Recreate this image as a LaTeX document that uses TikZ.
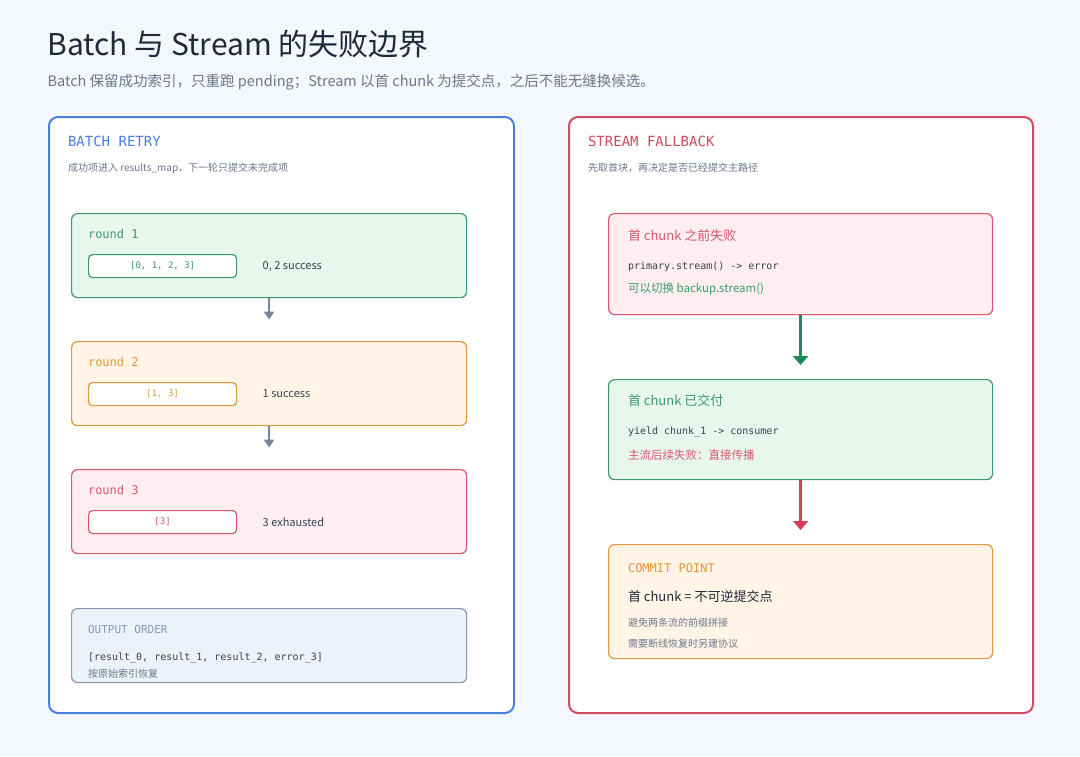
\documentclass[tikz,border=0pt]{standalone}
\usepackage{fontspec}
\usepackage{tikz}
\usetikzlibrary{arrows.meta,calc,positioning}
\setmainfont{Noto Sans CJK SC}
\newfontfamily\codefont{DejaVu Sans Mono}
\definecolor{pagebg}{HTML}{F4F7FB}
\definecolor{titleink}{HTML}{1E2A3B}
\definecolor{mutedink}{HTML}{6B778C}
\definecolor{bodyink}{HTML}{374151}
\definecolor{batchblue}{HTML}{4A7FE0}
\definecolor{streamred}{HTML}{D14A62}
\definecolor{okgreen}{HTML}{3A9A6A}
\definecolor{okfill}{HTML}{E8F7EE}
\definecolor{warnorange}{HTML}{E3973A}
\definecolor{warnfill}{HTML}{FFF4E6}
\definecolor{failred}{HTML}{D9566E}
\definecolor{failfill}{HTML}{FFEEF1}
\definecolor{outgray}{HTML}{8A97B5}
\definecolor{outfill}{HTML}{EDF1F8}
\definecolor{arrowgray}{HTML}{7D879C}
\definecolor{arrowgreen}{HTML}{1F8A55}
\definecolor{arrowred}{HTML}{D63D5A}

\begin{document}
\begin{tikzpicture}[x=1pt, y=-1pt,
    panel/.style={draw, rectangle, rounded corners=9pt, fill=white, line width=2pt, anchor=north west},
    card/.style={draw, rectangle, rounded corners=6pt, line width=1.2pt, anchor=north west},
    chip/.style={draw, rectangle, rounded corners=4pt, fill=white, line width=1.2pt, anchor=north west,
        minimum width=148pt, minimum height=23pt, font=\codefont\fontsize{9}{11}\selectfont},
    kicker/.style={anchor=west, font=\codefont\fontsize{14}{16}\selectfont},
    note/.style={anchor=west, text=mutedink, font=\fontsize{10}{12}\selectfont},
    code/.style={anchor=west, text=bodyink, font=\codefont\fontsize{10}{12}\selectfont},
    tag/.style={anchor=west, font=\codefont\fontsize{12}{14}\selectfont},
    head/.style={anchor=west, font=\fontsize{13}{15}\selectfont},
    smallarrow/.style={-{Triangle[length=8pt,width=10pt]}, line width=2pt, draw=arrowgray, fill=arrowgray},
    bigarrow/.style={-{Triangle[length=9pt,width=15pt]}, line width=3pt, shorten >=14pt}]

    \fill[pagebg] (0,0) rectangle (1080,756);

    \node [anchor=base west, text=titleink, font=\fontsize{30}{36}\selectfont] (title) at (44,55) {Batch 与 Stream 的失败边界};
    \node [anchor=base west, text=mutedink, font=\fontsize{14.5}{18}\selectfont] (subtitle) at (44,86) {Batch 保留成功索引，只重跑 pending；Stream 以首 chunk 为提交点，之后不能无缝换候选。};

    % batch side
    \node [panel, draw=batchblue, minimum width=465pt, minimum height=596pt] (batch) at (48,116) {};
    \node [kicker, text=batchblue] (batchtitle) at (64.5,141) {BATCH RETRY};
    \node [note] (batchnote) at (64.5,168) {成功项进入 results\_map，下一轮只提交未完成项};

    \node [card, draw=okgreen, fill=okfill, minimum width=395pt, minimum height=84pt] (round1) at (71,213) {};
    \node [tag, text=okgreen] (round1tag) at (84.5,234) {round 1};
    \node [chip, draw=okgreen, text=okgreen] (round1ids) at (88,254) {[0, 1, 2, 3]};
    \node [anchor=west, text=bodyink, font=\fontsize{11}{13}\selectfont, right=22pt of round1ids] (round1res) {0, 2 success};

    \node [card, draw=warnorange, fill=warnfill, minimum width=395pt, minimum height=84pt] (round2) at (71,341) {};
    \node [tag, text=warnorange] (round2tag) at (84.5,362) {round 2};
    \node [chip, draw=warnorange, text=warnorange] (round2ids) at (88,382) {[1, 3]};
    \node [anchor=west, text=bodyink, font=\fontsize{11}{13}\selectfont, right=22pt of round2ids] (round2res) {1 success};

    \node [card, draw=failred, fill=failfill, minimum width=395pt, minimum height=84pt] (round3) at (71,469) {};
    \node [tag, text=failred] (round3tag) at (84.5,490) {round 3};
    \node [chip, draw=failred, text=failred] (round3ids) at (88,510) {[3]};
    \node [anchor=west, text=bodyink, font=\fontsize{11}{13}\selectfont, right=22pt of round3ids] (round3res) {3 exhausted};

    \draw [smallarrow] (round1.south) -- ($(round1.south)!0.5!(round2.north)$);
    \draw [smallarrow] (round2.south) -- ($(round2.south)!0.5!(round3.north)$);

    \node [card, draw=outgray, fill=outfill, minimum width=395pt, minimum height=74pt] (order) at (71,608) {};
    \node [anchor=west, text=outgray, font=\codefont\fontsize{11}{13}\selectfont] (ordertag) at (84.5,629) {OUTPUT ORDER};
    \node [code] (orderlist) at (84.5,658) {[result\_0, result\_1, result\_2, error\_3]};
    \node [note] (ordernote) at (84.5,674) {按原始索引恢复};

    % stream side
    \node [panel, draw=streamred, minimum width=464pt, minimum height=596pt] (stream) at (568,116) {};
    \node [kicker, text=streamred] (streamtitle) at (584.5,141) {STREAM FALLBACK};
    \node [note] (streamnote) at (584.5,168) {先取首块，再决定是否已经提交主路径};

    \node [card, draw=failred, fill=failfill, minimum width=384pt, minimum height=101pt] (before) at (608,213) {};
    \node [head, text=failred] (beforehead) at (624.5,236) {首 chunk 之前失败};
    \node [code] (beforecode) at (624.5,267) {primary.stream() -> error};
    \node [anchor=west, text=okgreen, font=\fontsize{11.5}{14}\selectfont] (beforenote) at (624.5,289) {可以切换 backup.stream()};

    \node [card, draw=okgreen, fill=okfill, minimum width=384pt, minimum height=100pt] (after) at (608,379) {};
    \node [head, text=okgreen] (afterhead) at (624.5,401) {首 chunk 已交付};
    \node [code] (aftercode) at (624.5,432) {yield chunk\_1 -> consumer};
    \node [anchor=west, text=failred, font=\fontsize{11.5}{14}\selectfont] (afternote) at (624.5,455) {主流后续失败：直接传播};

    \node [card, draw=warnorange, fill=warnfill, minimum width=384pt, minimum height=114pt] (commit) at (608,544) {};
    \node [tag, text=warnorange] (committag) at (624.5,568) {COMMIT POINT};
    \node [head, text=titleink] (commithead) at (624.5,597) {首 chunk = 不可逆提交点};
    \node [note] (commitnote1) at (624.5,623) {避免两条流的前缀拼接};
    \node [note] (commitnote2) at (624.5,644) {需要断线恢复时另建协议};

    \draw [bigarrow, draw=arrowgreen, fill=arrowgreen] (before.south) -- (after.north);
    \draw [bigarrow, draw=arrowred, fill=arrowred] (after.south) -- (commit.north);
\end{tikzpicture}
\end{document}
